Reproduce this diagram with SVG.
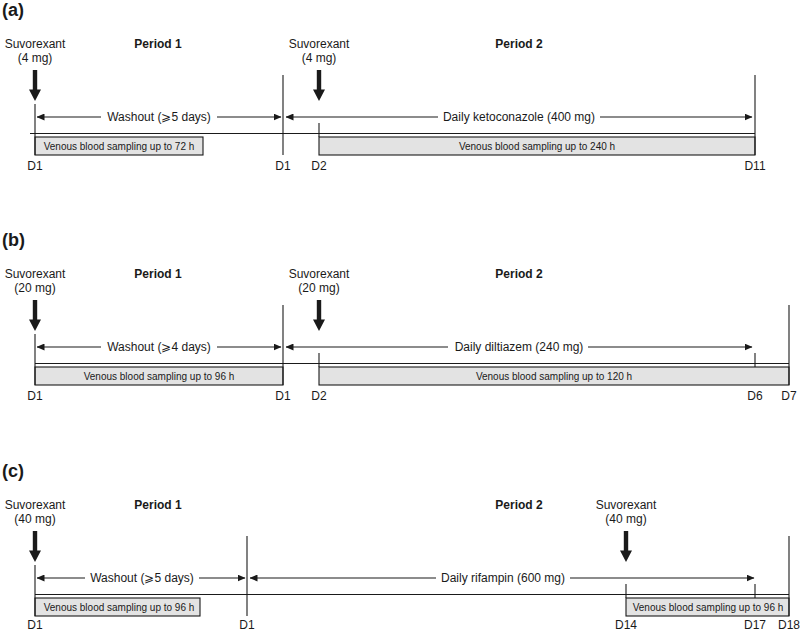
<svg xmlns="http://www.w3.org/2000/svg" width="800" height="632" viewBox="0 0 800 632">
<style>
text{font-family:"Liberation Sans",Arial,Helvetica,sans-serif;fill:#1a1a1a}
.t{font-size:12px;text-anchor:middle}
.b{font-size:12px;font-weight:bold;text-anchor:middle}
.h{font-size:18px;font-weight:bold}
.s{font-size:10px;text-anchor:middle}
.l{stroke:#1a1a1a;stroke-width:1.1;fill:none}
.a{stroke:#1a1a1a;stroke-width:1.1;fill:none;marker-end:url(#ah)}
.box{fill:#e3e3e3;stroke:#1a1a1a;stroke-width:1.1}
</style>
<defs>
<marker id="ah" markerUnits="userSpaceOnUse" markerWidth="8" markerHeight="7" refX="7.5" refY="3.5" orient="auto"><path d="M0,0 L8,3.5 L0,7 z" fill="#1a1a1a"/></marker>
<path id="dn" d="M-2.2,0 H2.2 V19.5 H6 L0,31 L-6,19.5 H-2.2 Z" fill="#1a1a1a"/>
</defs>

<g id="panel-a">
<text class="h" x="2" y="16">(a)</text>
<g id="a-dose1"><text class="t" x="35" y="48">Suvorexant</text><text class="t" x="35" y="62">(4 mg)</text><use href="#dn" x="35" y="70"/></g>
<g id="a-period1"><text class="b" x="158" y="48">Period 1</text></g>
<g id="a-dose2"><text class="t" x="319" y="48">Suvorexant</text><text class="t" x="319" y="62">(4 mg)</text><use href="#dn" x="319" y="70"/></g>
<g id="a-period2"><text class="b" x="519" y="48">Period 2</text></g>
<g id="a-box1"><rect class="box" x="35" y="137" width="168" height="18"/><text class="s" x="119" y="150">Venous blood sampling up to 72 h</text></g>
<g id="a-box2"><rect class="box" x="319" y="137" width="436" height="18"/><text class="s" x="537" y="150">Venous blood sampling up to 240 h</text></g>
<g id="a-connectors">
<line class="l" x1="30" y1="133.5" x2="755" y2="133.5"/>
<line class="l" x1="35" y1="104" x2="35" y2="155"/>
<line class="l" x1="283" y1="75" x2="283" y2="155"/>
<line class="l" x1="755" y1="75" x2="755" y2="155"/>
<line class="l" x1="319" y1="123" x2="319" y2="137"/>
<line class="a" x1="101" y1="117" x2="37" y2="117"/>
<line class="a" x1="217" y1="117" x2="281" y2="117"/>
<line class="a" x1="438" y1="117" x2="286" y2="117"/>
<line class="a" x1="600" y1="117" x2="752" y2="117"/>
</g>
<text class="t" x="159" y="121">Washout (⩾5 days)</text>
<text class="t" x="519" y="121">Daily ketoconazole (400 mg)</text>
<text class="t" x="35" y="170">D1</text>
<text class="t" x="283" y="170">D1</text>
<text class="t" x="319" y="170">D2</text>
<text class="t" x="755" y="170">D11</text>
</g>

<g id="panel-b" transform="translate(0,230)">
<text class="h" x="2" y="16">(b)</text>
<g id="b-dose1"><text class="t" x="35" y="48">Suvorexant</text><text class="t" x="35" y="62">(20 mg)</text><use href="#dn" x="35" y="70"/></g>
<g id="b-period1"><text class="b" x="158" y="48">Period 1</text></g>
<g id="b-dose2"><text class="t" x="319" y="48">Suvorexant</text><text class="t" x="319" y="62">(20 mg)</text><use href="#dn" x="319" y="70"/></g>
<g id="b-period2"><text class="b" x="519" y="48">Period 2</text></g>
<g id="b-box1"><rect class="box" x="35" y="137" width="248" height="18"/><text class="s" x="159" y="150">Venous blood sampling up to 96 h</text></g>
<g id="b-box2"><rect class="box" x="319" y="137" width="470" height="18"/><text class="s" x="554" y="150">Venous blood sampling up to 120 h</text></g>
<g id="b-connectors">
<line class="l" x1="35" y1="133.5" x2="789" y2="133.5"/>
<line class="l" x1="35" y1="104" x2="35" y2="155"/>
<line class="l" x1="283" y1="75" x2="283" y2="155"/>
<line class="l" x1="789" y1="75" x2="789" y2="155"/>
<line class="l" x1="319" y1="123" x2="319" y2="137"/>
<line class="l" x1="755" y1="123" x2="755" y2="137"/>
<line class="a" x1="101" y1="117" x2="37" y2="117"/>
<line class="a" x1="217" y1="117" x2="281" y2="117"/>
<line class="a" x1="448" y1="117" x2="286" y2="117"/>
<line class="a" x1="588" y1="117" x2="752" y2="117"/>
</g>
<text class="t" x="159" y="121">Washout (⩾4 days)</text>
<text class="t" x="519" y="121">Daily diltiazem (240 mg)</text>
<text class="t" x="35" y="170">D1</text>
<text class="t" x="283" y="170">D1</text>
<text class="t" x="319" y="170">D2</text>
<text class="t" x="755" y="170">D6</text>
<text class="t" x="789" y="170">D7</text>
</g>

<g id="panel-c" transform="translate(0,461)">
<text class="h" x="2" y="16">(c)</text>
<g id="c-dose1"><text class="t" x="35" y="48">Suvorexant</text><text class="t" x="35" y="62">(40 mg)</text><use href="#dn" x="35" y="70"/></g>
<g id="c-period1"><text class="b" x="158" y="48">Period 1</text></g>
<g id="c-period2"><text class="b" x="519" y="48">Period 2</text></g>
<g id="c-dose2"><text class="t" x="626" y="48">Suvorexant</text><text class="t" x="626" y="62">(40 mg)</text><use href="#dn" x="626" y="70"/></g>
<g id="c-box1"><rect class="box" x="35" y="137" width="165" height="18"/><text class="s" x="119" y="150">Venous blood sampling up to 96 h</text></g>
<g id="c-box2"><rect class="box" x="626" y="137" width="163" height="18"/><text class="s" x="708" y="150">Venous blood sampling up to 96 h</text></g>
<g id="c-connectors">
<line class="l" x1="35" y1="133.5" x2="789" y2="133.5"/>
<line class="l" x1="35" y1="104" x2="35" y2="155"/>
<line class="l" x1="247" y1="75" x2="247" y2="155"/>
<line class="l" x1="789" y1="75" x2="789" y2="155"/>
<line class="l" x1="626" y1="123" x2="626" y2="137"/>
<line class="l" x1="755" y1="123" x2="755" y2="137"/>
<line class="a" x1="85" y1="117" x2="37" y2="117"/>
<line class="a" x1="199" y1="117" x2="245" y2="117"/>
<line class="a" x1="436" y1="117" x2="250" y2="117"/>
<line class="a" x1="570" y1="117" x2="754" y2="117"/>
</g>
<text class="t" x="142" y="121">Washout (⩾5 days)</text>
<text class="t" x="503" y="121">Daily rifampin (600 mg)</text>
<text class="t" x="35" y="168">D1</text>
<text class="t" x="247" y="168">D1</text>
<text class="t" x="626" y="168">D14</text>
<text class="t" x="755" y="168">D17</text>
<text class="t" x="789" y="168">D18</text>
</g>
</svg>
